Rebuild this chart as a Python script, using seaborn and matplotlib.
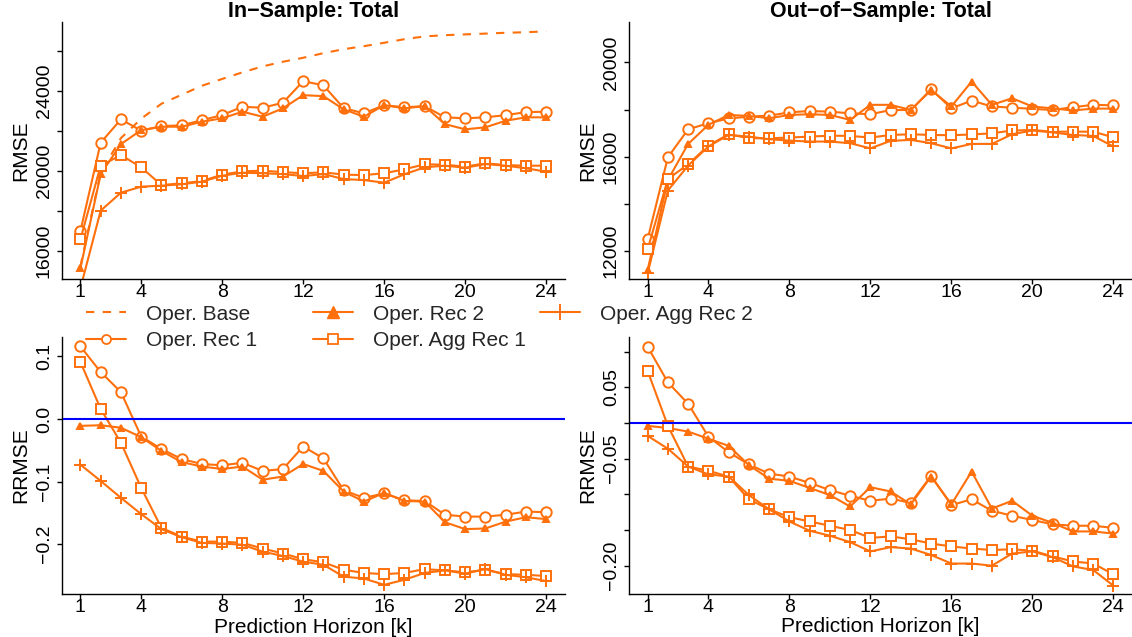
import matplotlib
matplotlib.use("Agg")
import matplotlib.pyplot as plt
from matplotlib.lines import Line2D
import seaborn as sns

# ---------------- data ----------------
k = list(range(1, 25))
x_ticks = [1, 4, 8, 12, 16, 20, 24]

# In-sample RMSE
is_base = [15220, 19900, 21630, 22600, 23350, 23800, 24250, 24590, 24920, 25220, 25450, 25650,
           25880, 26080, 26230, 26400, 26580, 26720, 26780, 26820, 26860, 26900, 26930, 26970]
is_rec1 = [16980, 21400, 22570, 22000, 22230, 22270, 22530, 22780, 23200, 23150, 23400, 24480,
           24270, 23130, 22870, 23280, 23170, 23230, 22670, 22620, 22670, 22780, 22930, 22950]
is_rec2 = [15120, 19830, 21330, 22030, 22200, 22200, 22450, 22620, 22950, 22700, 23120, 23780,
           23730, 23070, 22700, 23280, 23120, 23230, 22330, 22070, 22170, 22500, 22670, 22670]
is_agg1 = [16570, 20250, 20780, 20170, 19280, 19370, 19480, 19800, 19970, 20000, 19930, 19870,
           19920, 19800, 19780, 19870, 20070, 20320, 20300, 20200, 20370, 20280, 20250, 20250]
is_agg2 = [14120, 18000, 18900, 19200, 19250, 19320, 19450, 19750, 19900, 19870, 19830, 19730,
           19830, 19580, 19530, 19400, 19820, 20170, 20250, 20150, 20330, 20250, 20120, 19950]

# Out-of-sample RMSE
os_rec1 = [12490, 15970, 17160, 17420, 17620, 17700, 17740, 17880, 17940, 17910, 17840, 17800,
           17980, 17980, 18860, 18050, 18380, 18130, 18080, 18030, 17980, 18100, 18200, 18180]
os_rec2 = [11180, 15010, 16540, 17350, 17770, 17730, 17630, 17770, 17800, 17770, 17560, 18200,
           18200, 17980, 18830, 18130, 19190, 18200, 18480, 18130, 18050, 17960, 18040, 18040]
os_agg1 = [12060, 15050, 15670, 16470, 16950, 16780, 16780, 16810, 16850, 16890, 16880, 16810,
           16920, 16950, 16920, 16910, 16940, 16990, 17110, 17130, 17060, 17060, 17060, 16820]
os_agg2 = [11040, 14560, 15620, 16430, 16920, 16850, 16740, 16680, 16640, 16640, 16570, 16350,
           16670, 16710, 16570, 16350, 16540, 16540, 16950, 17110, 17030, 16920, 16880, 16430]

# In-sample RRMSE
is_r_rec1 = [0.116, 0.075, 0.043, -0.028, -0.048, -0.064, -0.072, -0.074, -0.070, -0.083, -0.080, -0.044,
             -0.063, -0.114, -0.126, -0.119, -0.130, -0.131, -0.153, -0.156, -0.156, -0.153, -0.148, -0.149]
is_r_rec2 = [-0.011, -0.010, -0.014, -0.029, -0.051, -0.069, -0.076, -0.080, -0.076, -0.097, -0.092, -0.072,
             -0.083, -0.116, -0.132, -0.118, -0.131, -0.132, -0.165, -0.176, -0.175, -0.164, -0.157, -0.160]
is_r_agg1 = [0.091, 0.016, -0.038, -0.110, -0.174, -0.188, -0.196, -0.196, -0.198, -0.207, -0.215, -0.224,
             -0.229, -0.241, -0.246, -0.248, -0.246, -0.240, -0.242, -0.245, -0.241, -0.248, -0.249, -0.251]
is_r_agg2 = [-0.073, -0.099, -0.126, -0.152, -0.176, -0.189, -0.198, -0.199, -0.201, -0.212, -0.219, -0.228,
             -0.233, -0.252, -0.255, -0.265, -0.257, -0.246, -0.242, -0.247, -0.240, -0.249, -0.253, -0.259]

# Out-of-sample RRMSE
os_r_rec1 = [0.107, 0.057, 0.027, -0.019, -0.041, -0.058, -0.071, -0.075, -0.084, -0.094, -0.102, -0.109,
             -0.106, -0.112, -0.074, -0.115, -0.107, -0.123, -0.130, -0.136, -0.142, -0.144, -0.144, -0.147]
os_r_rec2 = [-0.004, -0.007, -0.012, -0.022, -0.032, -0.059, -0.078, -0.081, -0.091, -0.101, -0.117, -0.090,
             -0.096, -0.114, -0.075, -0.114, -0.068, -0.120, -0.109, -0.130, -0.140, -0.152, -0.152, -0.155]
os_r_agg1 = [0.073, -0.004, -0.061, -0.067, -0.075, -0.107, -0.121, -0.132, -0.138, -0.144, -0.150, -0.161,
             -0.159, -0.163, -0.169, -0.173, -0.176, -0.178, -0.177, -0.179, -0.187, -0.194, -0.197, -0.212]
os_r_agg2 = [-0.018, -0.036, -0.061, -0.072, -0.075, -0.101, -0.121, -0.138, -0.151, -0.158, -0.167, -0.180,
             -0.174, -0.176, -0.185, -0.197, -0.197, -0.200, -0.183, -0.180, -0.188, -0.201, -0.206, -0.228]

names = ["Oper. Base", "Oper. Rec 1", "Oper. Rec 2", "Oper. Agg Rec 1", "Oper. Agg Rec 2"]

# ---------------- style ----------------
sns.set_theme(style="ticks")
plt.rcParams['font.family'] = ['Liberation Sans', 'DejaVu Sans']
plt.rcParams['axes.unicode_minus'] = True

ORANGE = '#FF700C'
LW = 1.5
W, H = 1132, 637

plot_styles = {
    "Oper. Base": dict(linestyle=(0, (4, 4))),
    "Oper. Rec 1": dict(marker='o', markersize=7.5, markerfacecolor='white'),
    "Oper. Rec 2": dict(marker='^', markersize=5, markerfacecolor=ORANGE),
    "Oper. Agg Rec 1": dict(marker='s', markersize=7, markerfacecolor='white'),
    "Oper. Agg Rec 2": dict(marker='+', markersize=8.5),
}

fig = plt.figure(figsize=(W / 100, H / 100), dpi=100)


def px_axes(left, top, right, bottom):
    return fig.add_axes([left / W, 1 - bottom / H, (right - left) / W, (bottom - top) / H])


ax_tl = px_axes(61.8, 22, 564.8, 279)
ax_tr = px_axes(629, 22, 1132, 279)
ax_bl = px_axes(61.8, 336.7, 564.8, 594)
ax_br = px_axes(629, 337, 1132, 594)


def draw(ax, series):
    for name, vals in series:
        st = dict(plot_styles[name])
        sns.lineplot(x=k, y=vals, ax=ax, color=ORANGE, linewidth=LW, legend=False,
                     markeredgecolor=ORANGE, markeredgewidth=1.4, **st)


def style_ax(ax, ylim, yticks, ylabels, ylabel, title=None, xlabel=None):
    ax.set_xlim(0.08, 24.92)
    ax.set_ylim(*ylim)
    ax.set_xticks(x_ticks)
    ax.set_xticklabels([str(t) for t in x_ticks])
    ax.set_yticks(yticks)
    ax.set_yticklabels(ylabels, rotation=90, va='center')
    for s in ['top', 'right']:
        ax.spines[s].set_visible(False)
    for s in ['left', 'bottom']:
        ax.spines[s].set_linewidth(1.0)
        ax.spines[s].set_color('black')
    ax.tick_params(direction='out', length=3.5, width=1.0, colors='black', labelsize=14,
                   bottom=True, left=True)
    ax.tick_params(axis='x', pad=0)
    ax.tick_params(axis='y', pad=3)
    ax.set_ylabel(ylabel, fontsize=15, color='black')
    ax.yaxis.set_label_coords(-41 / 503, 0.5)
    ax.yaxis.label.set_va('center')
    if title:
        ax.set_title(title, fontsize=15.5, fontweight='bold', pad=1, color='black')
    if xlabel:
        ax.set_xlabel(xlabel, fontsize=15, color='black')
        ax.xaxis.set_label_coords(0.5, -33 / 257)
        ax.xaxis.label.set_va('center')
    else:
        ax.set_xlabel('')
    ax.grid(False)


# top-left
draw(ax_tl, [(names[0], is_base), (names[1], is_rec1), (names[2], is_rec2),
             (names[3], is_agg1), (names[4], is_agg2)])
style_ax(ax_tl, (14580, 27440), [16000, 18000, 20000, 22000, 24000, 26000],
         ["16000", "", "20000", "", "24000", ""], "RMSE", title="In\u2212Sample: Total")

# top-right
draw(ax_tr, [(names[1], os_rec1), (names[2], os_rec2), (names[3], os_agg1), (names[4], os_agg2)])
style_ax(ax_tr, (10800, 21720), [12000, 14000, 16000, 18000, 20000],
         ["12000", "", "16000", "", "20000"], "RMSE", title="Out\u2212of\u2212Sample: Total")

# bottom-left
draw(ax_bl, [(names[1], is_r_rec1), (names[2], is_r_rec2), (names[3], is_r_agg1), (names[4], is_r_agg2)])
ax_bl.axhline(0, color='blue', linewidth=1.5)
style_ax(ax_bl, (-0.2797, 0.1315), [-0.2, -0.1, 0.0, 0.1],
         ["\u22120.2", "\u22120.1", "0.0", "0.1"], "RRMSE", xlabel="Prediction Horizon [k]")

# bottom-right
draw(ax_br, [(names[1], os_r_rec1), (names[2], os_r_rec2), (names[3], os_r_agg1), (names[4], os_r_agg2)])
ax_br.axhline(0, color='blue', linewidth=1.5)
style_ax(ax_br, (-0.2397, 0.1206), [-0.20, -0.15, -0.10, -0.05, 0.0, 0.05, 0.10],
         ["\u22120.20", "", "", "\u22120.05", "", "0.05", ""], "RRMSE", xlabel="Prediction Horizon [k]")

# ---------------- legend (R-style, equal columns) ----------------
legend_handles = {
    "Oper. Base": Line2D([], [], color=ORANGE, lw=LW, linestyle=(0, (4, 4))),
    "Oper. Rec 1": Line2D([], [], color=ORANGE, lw=LW, marker='o', markersize=6.5,
                          markerfacecolor='white', markeredgecolor=ORANGE, markeredgewidth=1.3),
    "Oper. Rec 2": Line2D([], [], color=ORANGE, lw=LW, marker='^', markersize=8.5,
                          markerfacecolor=ORANGE, markeredgecolor=ORANGE),
    "Oper. Agg Rec 1": Line2D([], [], color=ORANGE, lw=LW, marker='s', markersize=6.5,
                              markerfacecolor='white', markeredgecolor=ORANGE, markeredgewidth=1.3),
    "Oper. Agg Rec 2": Line2D([], [], color=ORANGE, lw=LW, marker='+', markersize=11,
                              markeredgecolor=ORANGE, markeredgewidth=1.4),
}
legend_slots = [(86, 314), (86, 341), (313, 314), (313, 341), (540, 314)]
for name, (lx, ly) in zip(names, legend_slots):
    fig.legend(handles=[legend_handles[name]], labels=[name], loc='center left',
               bbox_to_anchor=(lx / W, 1 - ly / H), frameon=False, borderpad=0,
               borderaxespad=0, handlelength=1.92, handletextpad=0.96, fontsize=15,
               numpoints=1)

fig.savefig("out.png", dpi=100)
